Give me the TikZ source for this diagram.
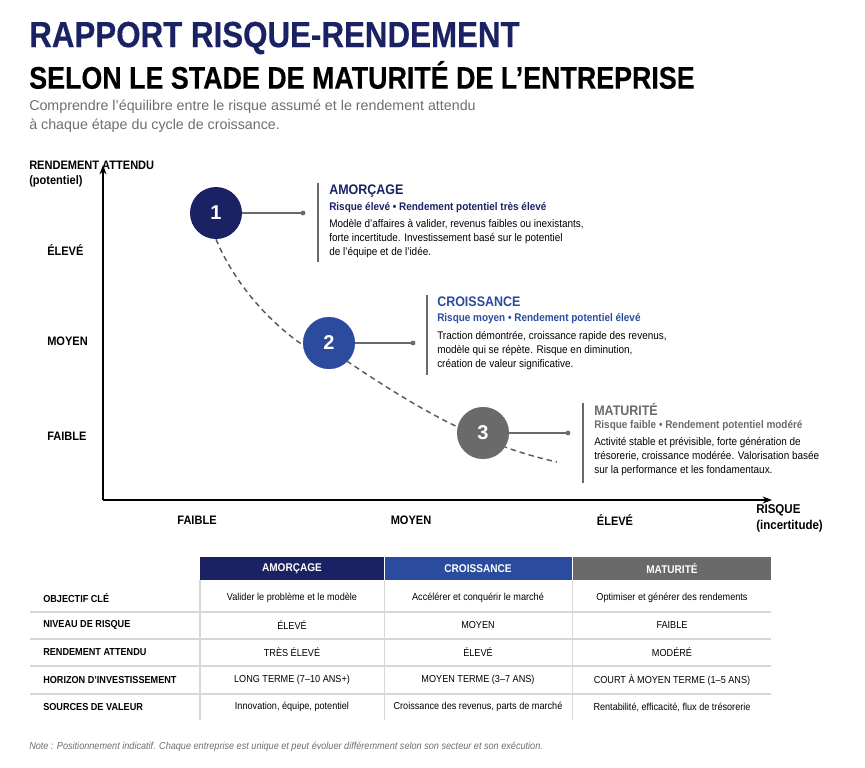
\documentclass[tikz,border=0pt]{standalone}
\usepackage{fontspec}
\setmainfont{Liberation Sans}
\newfontfamily\titlefont[FakeStretch=0.86,FakeBold=0.4]{Liberation Sans Bold}
\newfontfamily\condfont[FakeStretch=0.9]{Liberation Sans}
\usetikzlibrary{arrows.meta}
\definecolor{navy}{HTML}{1B2263}
\definecolor{midblue}{HTML}{2B4C9E}
\definecolor{stonegray}{HTML}{6A6A6A}
\definecolor{textgray}{HTML}{6E6E6E}
\definecolor{rulegray}{HTML}{D6D6D6}
\tikzset{
  lbl/.style={anchor=west, inner sep=0pt, font=\condfont\bfseries\fontsize{9.2}{10}\selectfont},
  stage/.style={circle, minimum size=39pt, inner sep=0pt, text=white, font=\bfseries\fontsize{15}{15}\selectfont},
  body/.style={anchor=north west, inner sep=0pt, align=left, font=\condfont\fontsize{8.3}{10.6}\selectfont},
  cell/.style={inner sep=0pt, font=\condfont\fontsize{7.6}{8}\selectfont},
  head/.style={inner sep=0pt, text=white, font=\condfont\bfseries\fontsize{8.4}{9}\selectfont},
}
\begin{document}
\begin{tikzpicture}[x=0.75pt,y=-0.75pt]
\useasboundingbox (0,0) rectangle (865,768);

% titles
\node[anchor=west, inner sep=0pt, text=navy, font=\titlefont\fontsize{27.3}{27}\selectfont] (t1) at (29,38) {RAPPORT RISQUE-RENDEMENT};
\node[anchor=west, inner sep=0pt, font=\titlefont\fontsize{23.4}{23}\selectfont] (t2) at (29,75) {SELON LE STADE DE MATURITÉ DE L’ENTREPRISE};
\node[anchor=north west, inner sep=0pt, text=textgray, align=left, font=\fontsize{10.7}{14.3}\selectfont] (sub) at (29,100)
  {Comprendre l’équilibre entre le risque assumé et le rendement attendu\\à chaque étape du cycle de croissance.};

% axes
\coordinate (o) at (103,500);
\coordinate (ytop) at (103,165);
\coordinate (xend) at (772,500);
\draw[line width=1.3pt, -{Stealth[length=7pt]}] (o) -- (ytop);
\draw[line width=1.3pt, -{Stealth[length=7pt]}] (o) -- (xend);
\node[lbl] (ylab) at (29,165) {RENDEMENT ATTENDU};
\node[lbl] (ylab2) at (29,181) {(potentiel)};
\node[lbl] (yhi) at (47,250) {ÉLEVÉ};
\node[lbl] (ymid) at (47,341) {MOYEN};
\node[lbl] (ylo) at (47,436) {FAIBLE};
\node[lbl, anchor=center] (xlo) at (197,520) {FAIBLE};
\node[lbl, anchor=center] (xmid) at (411,520) {MOYEN};
\node[lbl, anchor=center] (xhi) at (615,520) {ÉLEVÉ};
\node[lbl, font=\condfont\bfseries\fontsize{9.6}{10}\selectfont] (xlab) at (756,510) {RISQUE};
\node[lbl, font=\condfont\bfseries\fontsize{9.6}{10}\selectfont] (xlab2) at (756,526) {(incertitude)};

% curve and stages
\node[stage, fill=navy] (s1) at (216,213) {1};
\node[stage, fill=midblue] (s2) at (329,343) {2};
\node[stage, fill=stonegray] (s3) at (483,433) {3};
\coordinate (cend) at (557,462);
\draw[dash pattern=on 4pt off 3pt, line width=1.1pt, stonegray!85!black] (s1.south) .. controls (250,320) and (330,370) .. (s2.south east)
  .. controls (420,410) and (480,445) .. (cend);
\fill[white] (s2) circle (19.5pt);
\node[stage, fill=midblue] at (s2) {2};
\fill[white] (s3) circle (19.5pt);
\node[stage, fill=stonegray] at (s3) {3};

\coordinate (d1) at (303,213);
\coordinate (d2) at (413,343);
\coordinate (d3) at (568,433);
\draw[stonegray, line width=0.8pt] (s1) ++(26,0) -- (d1);
\fill[stonegray] (d1) circle (1.8pt);
\draw[stonegray, line width=0.8pt] (s2) ++(26,0) -- (d2);
\fill[stonegray] (d2) circle (1.8pt);
\draw[stonegray, line width=0.8pt] (s3) ++(26,0) -- (d3);
\fill[stonegray] (d3) circle (1.8pt);

% stage texts
\draw[stonegray, line width=0.8pt] (318,183) -- (318,262);
\node[lbl, text=navy, font=\condfont\bfseries\fontsize{10.4}{11}\selectfont] (a1) at (329,191) {AMORÇAGE};
\node[lbl, text=navy, font=\condfont\bfseries\fontsize{8.3}{9}\selectfont] (a2) at (329,208) {Risque élevé • Rendement potentiel très élevé};
\node[body] (a3) at (329,219) {Modèle d’affaires à valider, revenus faibles ou inexistants,\\forte incertitude. Investissement basé sur le potentiel\\de l’équipe et de l’idée.};

\draw[stonegray, line width=0.8pt] (427,295) -- (427,375);
\node[lbl, text=midblue, font=\condfont\bfseries\fontsize{10.4}{11}\selectfont] (b1) at (437,302) {CROISSANCE};
\node[lbl, text=midblue, font=\condfont\bfseries\fontsize{8.3}{9}\selectfont] (b2) at (437,319) {Risque moyen • Rendement potentiel élevé};
\node[body] (b3) at (437,331) {Traction démontrée, croissance rapide des revenus,\\modèle qui se répète. Risque en diminution,\\création de valeur significative.};

\draw[stonegray, line width=0.8pt] (583,403) -- (583,483);
\node[lbl, text=stonegray, font=\condfont\bfseries\fontsize{10.4}{11}\selectfont] (c1) at (594,409) {MATURITÉ};
\node[lbl, text=stonegray, font=\condfont\bfseries\fontsize{8.3}{9}\selectfont] (c2) at (594,426) {Risque faible • Rendement potentiel modéré};
\node[body] (c3) at (594,437) {Activité stable et prévisible, forte génération de\\trésorerie, croissance modérée. Valorisation basée\\sur la performance et les fondamentaux.};

% table
\fill[navy] (200,557) rectangle (384,580);
\fill[midblue] (385,557) rectangle (572,580);
\fill[stonegray] (573,557) rectangle (771,580);
\node[head] (h1) at (292,569) {AMORÇAGE};
\node[head] (h2) at (478,569) {CROISSANCE};
\node[head] (h3) at (672,569) {MATURITÉ};
\foreach \yy in {612,639,666,694}
  \draw[rulegray, line width=0.8pt] (30,\yy) -- (771,\yy);
\foreach \xx in {200,384.5,572.5}
  \draw[rulegray, line width=0.8pt] (\xx,580) -- (\xx,720);
\foreach \yy/\rlab/\ca/\cb/\cc in {
  598/OBJECTIF CLÉ/Valider le problème et le modèle/Accélérer et conquérir le marché/Optimiser et générer des rendements,
  625/NIVEAU DE RISQUE/ÉLEVÉ/MOYEN/FAIBLE,
  652/RENDEMENT ATTENDU/TRÈS ÉLEVÉ/ÉLEVÉ/MODÉRÉ,
  680/HORIZON D’INVESTISSEMENT/LONG TERME (7–10 ANS+)/MOYEN TERME (3–7 ANS)/COURT À MOYEN TERME (1–5 ANS),
  707/SOURCES DE VALEUR/{Innovation, équipe, potentiel}/{Croissance des revenus, parts de marché}/{Rentabilité, efficacité, flux de trésorerie}} {
  \node[lbl, font=\condfont\bfseries\fontsize{7.6}{8}\selectfont] at (43,\yy) {\rlab};
  \node[cell] at (292,\yy) {\ca};
  \node[cell] at (478,\yy) {\cb};
  \node[cell] at (672,\yy) {\cc};
}

% note
\node[anchor=west, inner sep=0pt, text=textgray, font=\condfont\itshape\fontsize{7.6}{8}\selectfont] (note) at (29,747)
  {Note : Positionnement indicatif. Chaque entreprise est unique et peut évoluer différemment selon son secteur et son exécution.};
\end{tikzpicture}
\end{document}
